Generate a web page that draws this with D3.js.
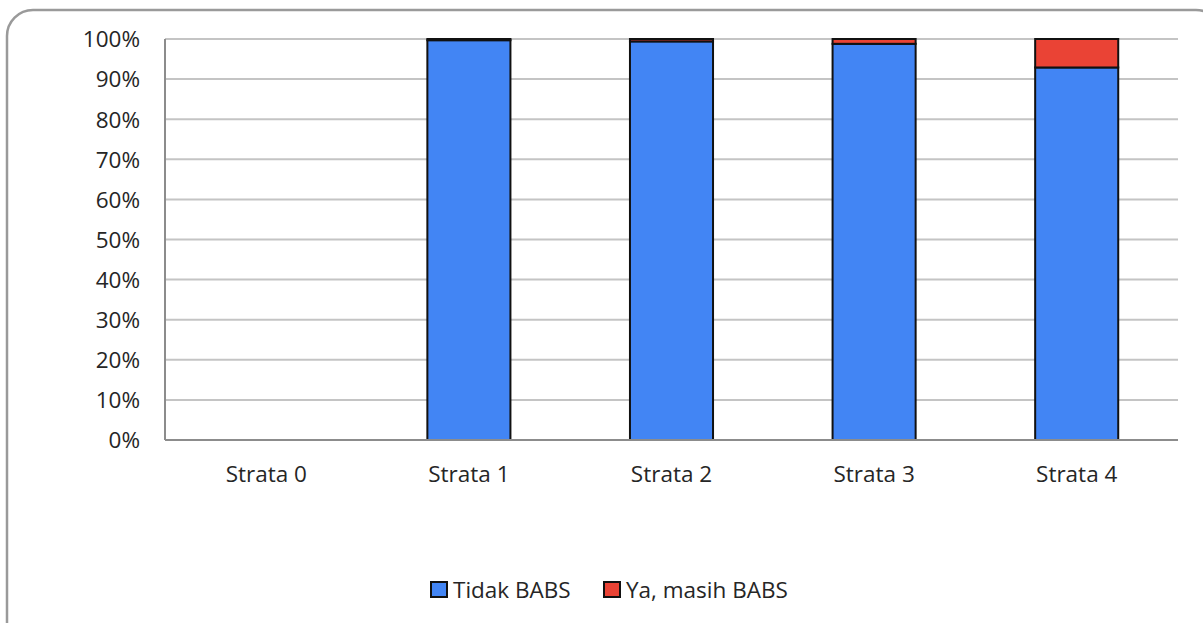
<!DOCTYPE html>
<meta charset="utf-8">
<script src="https://d3js.org/d3.v7.min.js"></script>
<style>
  body { margin: 0; background: #fff; }
  text { font-family: "Open Sans", sans-serif; fill: #262626; }
</style>
<div id="chart"></div>
<script>

// data (percent of households)
var categories = ["Strata 0", "Strata 1", "Strata 2", "Strata 3", "Strata 4"];
var seriesNames = ["Tidak BABS", "Ya, masih BABS"];
var tidakBabs = [0, 99.7, 99.4, 98.8, 92.9];
var yaBabs = [0, 0.3, 0.6, 1.2, 7.1];
var yTicks = [0, 10, 20, 30, 40, 50, 60, 70, 80, 90, 100];
var colors = ["#4285f4", "#ea4335"];

var W = 1203, H = 623;
var margin = {top: 39, right: 25, bottom: 183, left: 165};
var width = W - margin.left - margin.right,
    height = H - margin.top - margin.bottom;

var svg = d3.select("#chart").append("svg")
  .attr("width", W)
  .attr("height", H);

// rounded chart border
svg.append("rect")
  .attr("x", 7).attr("y", 10)
  .attr("width", 1215).attr("height", 640)
  .attr("rx", 26).attr("ry", 26)
  .style("fill", "none")
  .style("stroke", "#9a9a9a")
  .style("stroke-width", 2.5);

var g = svg.append("g")
  .attr("transform", "translate(" + margin.left + "," + margin.top + ")");

var x = d3.scaleBand()
  .domain(categories)
  .range([0, width])
  .paddingInner(0.59)
  .paddingOuter(0.295);

var y = d3.scaleLinear()
  .domain([0, 100])
  .range([height, 0]);

// gridlines
g.append("g")
  .selectAll("line")
  .data(yTicks.filter(function(d) { return d > 0; }))
  .enter().append("line")
    .attr("x1", 0).attr("x2", width)
    .attr("y1", function(d) { return y(d); })
    .attr("y2", function(d) { return y(d); })
    .style("stroke", "#c4c4c4")
    .style("stroke-width", 2);

// y axis
var yAxis = g.append("g")
  .call(d3.axisLeft(y).tickValues(yTicks).tickSize(0).tickPadding(25)
    .tickFormat(function(d) { return d + "%"; }));
yAxis.select(".domain").remove();
yAxis.selectAll("text").style("font-size", "22.5px").attr("dy", "0.35em");

// stacked bars
var table = categories.map(function(c, i) {
  return {cat: c, "Tidak BABS": tidakBabs[i], "Ya, masih BABS": yaBabs[i]};
});
var stack = d3.stack().keys(seriesNames)(table);

g.append("g")
  .selectAll("g")
  .data(stack)
  .enter().append("g")
    .style("fill", function(d, i) { return colors[i]; })
  .selectAll("rect")
  .data(function(d) { return d; })
  .enter().append("rect")
    .filter(function(d) { return d[1] - d[0] > 0; })
    .attr("x", function(d) { return x(d.data.cat); })
    .attr("y", function(d) { return y(d[1]); })
    .attr("width", x.bandwidth())
    .attr("height", function(d) { return y(d[0]) - y(d[1]); })
    .style("stroke", "#111")
    .style("stroke-width", 2);

// axis lines
g.append("line")
  .attr("x1", 0).attr("x2", 0).attr("y1", 0).attr("y2", height)
  .style("stroke", "#8c8c8c").style("stroke-width", 2);
g.append("line")
  .attr("x1", 0).attr("x2", width).attr("y1", height).attr("y2", height)
  .style("stroke", "#8c8c8c").style("stroke-width", 2);

// x axis labels
var xAxis = g.append("g")
  .attr("transform", "translate(0," + height + ")")
  .call(d3.axisBottom(x).tickSize(0).tickPadding(26));
xAxis.select(".domain").remove();
xAxis.selectAll("text").style("font-size", "22.5px");

// legend
var legendX = [431, 604];
var legend = svg.append("g")
  .selectAll("g")
  .data(seriesNames)
  .enter().append("g")
    .attr("transform", function(d, i) { return "translate(" + legendX[i] + ",582)"; });
legend.append("rect")
  .attr("width", 16).attr("height", 15)
  .style("fill", function(d, i) { return colors[i]; })
  .style("stroke", "#111")
  .style("stroke-width", 2);
legend.append("text")
  .attr("x", 22).attr("y", 8)
  .attr("dy", "0.35em")
  .style("font-size", "22.5px")
  .text(function(d) { return d; });

</script>
